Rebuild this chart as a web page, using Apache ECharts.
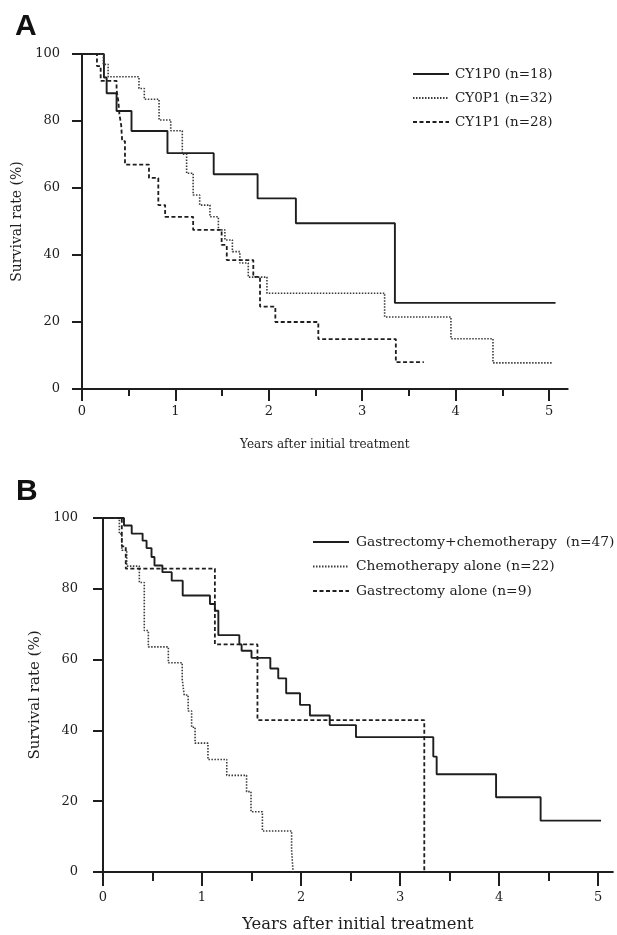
<!DOCTYPE html>
<html>
<head>
<meta charset="utf-8">
<script src="https://cdn.jsdelivr.net/npm/echarts@6/dist/echarts.min.js"></script>
<style>
html,body{margin:0;padding:0;background:#fff;}
#c{width:617px;height:935px;}
</style>
</head>
<body>
<div id="c"></div>
<script>
// ---------- Panel A ----------
const aNames = ['CY1P0 (n=18)', 'CY0P1 (n=32)', 'CY1P1 (n=28)'];
const aCy1p0T = [0, 0.235, 0.264, 0.37, 0.53, 0.915, 1.41, 1.88, 2.29, 3.35, 5.07];
const aCy1p0S = [100, 93, 88.3, 83, 77, 70.4, 64.1, 56.9, 49.5, 25.7, 25.7];
const aCy0p1T = [0, 0.228, 0.28, 0.61, 0.667, 0.825, 0.95, 1.074, 1.12, 1.19, 1.26, 1.37, 1.46, 1.53, 1.61, 1.69, 1.78, 1.98, 3.24, 3.95, 4.40, 5.04];
const aCy0p1S = [100, 96.9, 93.2, 89.7, 86.5, 80.3, 77.1, 70.1, 64.4, 57.9, 54.9, 51.4, 47.5, 44.5, 41, 37.6, 33.4, 28.6, 21.5, 15, 7.8, 7.8];
const aCy1p1T = [0, 0.16, 0.20, 0.37, 0.39, 0.40, 0.42, 0.43, 0.46, 0.717, 0.817, 0.89, 1.19, 1.495, 1.55, 1.834, 1.906, 2.07, 2.53, 3.36, 3.66];
const aCy1p1S = [100, 96.4, 92, 89.3, 85.7, 82.1, 78.6, 74, 67, 63, 54.9, 51.4, 47.5, 43, 38.5, 33.5, 24.6, 20, 14.9, 8, 8];

// ---------- Panel B ----------
const bNames = ['Gastrectomy+chemotherapy  (n=47)', 'Chemotherapy alone (n=22)', 'Gastrectomy alone (n=9)'];
const bGcT = [0, 0.212, 0.29, 0.40, 0.44, 0.49, 0.52, 0.60, 0.694, 0.805, 1.08, 1.13, 1.165, 1.377, 1.40, 1.50, 1.69, 1.77, 1.85, 1.99, 2.09, 2.29, 2.555, 3.336, 3.37, 3.97, 4.42, 5.03];
const bGcS = [100, 97.9, 95.6, 93.6, 91.5, 89, 86.6, 84.7, 82.3, 78.1, 75.7, 73.8, 66.9, 64.3, 62.5, 60.5, 57.5, 54.7, 50.5, 47.2, 44.2, 41.5, 38.1, 32.6, 27.6, 21.1, 14.5, 14.5];
const bChT = [0, 0.165, 0.19, 0.24, 0.367, 0.417, 0.458, 0.66, 0.80, 0.82, 0.86, 0.895, 0.93, 1.06, 1.25, 1.45, 1.495, 1.61, 1.905, 1.92];
const bChS = [100, 95.5, 90.9, 86.4, 81.8, 68.2, 63.6, 59.1, 54.5, 50, 45.5, 40.9, 36.4, 31.8, 27.3, 22.7, 17, 11.6, 6.2, 0];
const bGaT = [0, 0.19, 0.23, 1.13, 1.56, 3.245];
const bGaS = [100, 92, 85.7, 64.3, 42.9, 0];

// ---------- Axis ticks ----------
const xMajor = [0, 1, 2, 3, 4, 5];
const xMinor = [0.5, 1.5, 2.5, 3.5, 4.5];
const yTicks = [0, 20, 40, 60, 80, 100];

const zip = (t, s) => t.map((v, i) => [v, s[i]]);
const SERIF = '"DejaVu Serif", serif';
const INK = '#1e1e1e';

const styles = [
  { color: INK, width: 1.9, type: 'solid' },
  { color: '#3a3a3a', width: 1.6, type: [1.5, 1.5] },
  { color: INK, width: 1.8, type: [4, 2.5] }
];

function yAxis(grid, gap, fs, lblMargin) {
  return {
    type: 'value', gridIndex: grid, min: 0, max: 100, interval: 20,
    name: 'Survival rate (%)', nameLocation: 'middle', nameGap: gap,
    nameTextStyle: { fontFamily: SERIF, fontSize: fs, color: INK },
    axisLine: { show: true, lineStyle: { color: INK, width: 2 } },
    axisTick: { show: true, length: 10, customValues: yTicks, lineStyle: { color: INK, width: 2 } },
    axisLabel: { margin: lblMargin, customValues: yTicks, fontFamily: SERIF, fontSize: 13, color: INK },
    splitLine: { show: false }
  };
}
function xAxisMain(grid, max, gap, fs, tickLen, lblMargin) {
  return {
    type: 'value', gridIndex: grid, min: 0, max: max, position: 'bottom',
    name: 'Years after initial treatment', nameLocation: 'middle', nameGap: gap,
    nameTextStyle: { fontFamily: SERIF, fontSize: fs, color: INK },
    axisLine: { show: true, onZero: false, lineStyle: { color: INK, width: 2 } },
    axisTick: { show: true, length: tickLen, customValues: xMajor, lineStyle: { color: INK, width: 2 } },
    axisLabel: { margin: lblMargin, customValues: xMajor, fontFamily: SERIF, fontSize: 13, color: INK },
    splitLine: { show: false }
  };
}
function xAxisMinor(grid, max, tickLen) {
  return {
    type: 'value', gridIndex: grid, min: 0, max: max, position: 'bottom',
    axisLine: { show: false, onZero: false },
    axisTick: { show: true, length: tickLen, customValues: xMinor, lineStyle: { color: INK, width: 2 } },
    axisLabel: { show: false },
    splitLine: { show: false }
  };
}
function line(name, data, xi, yi, st) {
  return {
    name: name, type: 'line', step: 'end', xAxisIndex: xi, yAxisIndex: yi,
    data: data, symbol: 'none', showSymbol: false, animation: false,
    lineStyle: { color: st.color, width: st.width, type: st.type },
    itemStyle: { color: st.color }
  };
}

const HIDE = 'rgba(0,0,0,0)';
const chart = echarts.init(document.getElementById('c'), null, { renderer: 'canvas' });
chart.setOption({
  backgroundColor: '#ffffff',
  animation: false,
  title: [
    { text: 'A', left: 10, top: 7, textStyle: { fontFamily: '"Liberation Sans", Arial, sans-serif', fontWeight: 'bold', fontSize: 30, color: '#111' } },
    { text: 'B', left: 11, top: 472, textStyle: { fontFamily: '"Liberation Sans", Arial, sans-serif', fontWeight: 'bold', fontSize: 30, color: '#111' } }
  ],
  legend: [
    { data: aNames, orient: 'vertical', left: 407, top: 62, itemWidth: 36, itemHeight: 14, itemGap: 10,
      itemStyle: { color: HIDE, borderColor: HIDE, borderWidth: 0 },
      textStyle: { fontFamily: SERIF, fontSize: 13.5, color: INK, padding: [0, 0, 0, 1] }, selectedMode: false },
    { data: bNames, orient: 'vertical', left: 307, top: 530, itemWidth: 36, itemHeight: 14, itemGap: 10.5,
      itemStyle: { color: HIDE, borderColor: HIDE, borderWidth: 0 },
      textStyle: { fontFamily: SERIF, fontSize: 13.8, color: INK, padding: [0, 0, 0, 2] }, selectedMode: false }
  ],
  grid: [
    { left: 82, top: 54, width: 485.7, height: 335 },
    { left: 103, top: 518, width: 509.9, height: 354 }
  ],
  xAxis: [
    xAxisMain(0, 5.2, 50, 12, 12, 16),
    xAxisMinor(0, 5.2, 7),
    xAxisMain(1, 5.15, 45, 16.4, 14, 19),
    xAxisMinor(1, 5.15, 9)
  ],
  yAxis: [ yAxis(0, 57, 14, 22), yAxis(1, 58, 15, 25) ],
  series: [
    line(aNames[0], zip(aCy1p0T, aCy1p0S), 0, 0, styles[0]),
    line(aNames[1], zip(aCy0p1T, aCy0p1S), 0, 0, styles[1]),
    line(aNames[2], zip(aCy1p1T, aCy1p1S), 0, 0, styles[2]),
    line(bNames[0], zip(bGcT, bGcS), 2, 1, styles[0]),
    line(bNames[1], zip(bChT, bChS), 2, 1, styles[1]),
    line(bNames[2], zip(bGaT, bGaS), 2, 1, styles[2])
  ]
});
</script>
</body>
</html>
